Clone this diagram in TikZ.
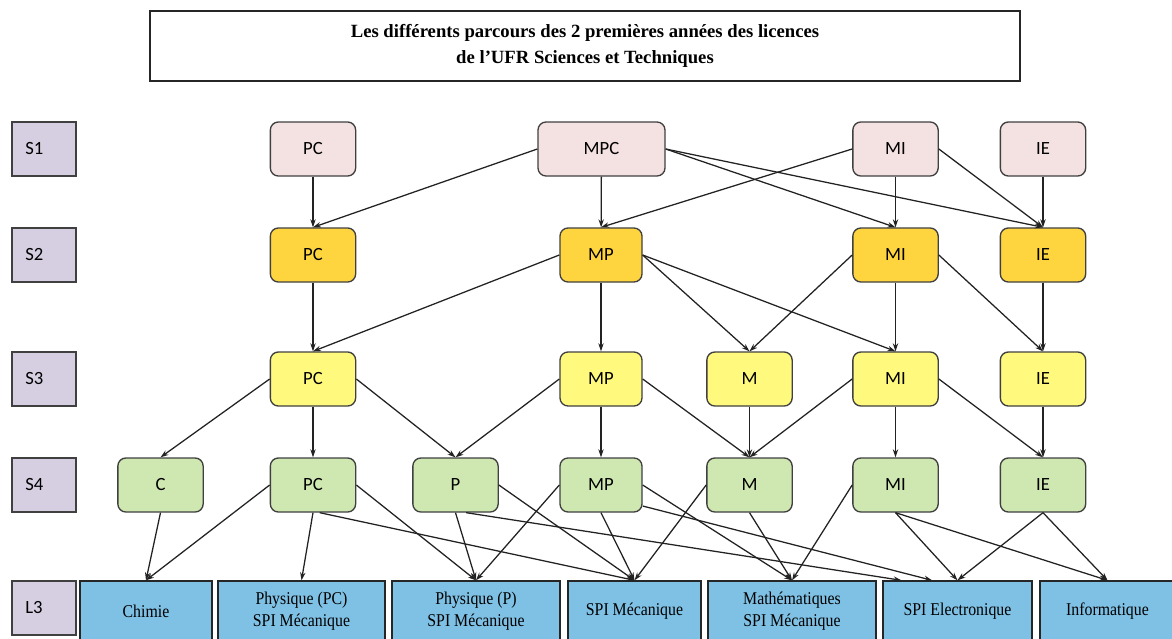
\documentclass[tikz,border=0pt]{standalone}
\usepackage{fontspec}
\setmainfont{Liberation Serif}
\newfontfamily\nodefont{Carlito}
\newfontfamily\lthreefont[FakeStretch=0.88]{Liberation Serif}
\usetikzlibrary{arrows.meta}
\definecolor{cone}{HTML}{F4E1E1}
\definecolor{ctwo}{HTML}{FFD53F}
\definecolor{cthree}{HTML}{FFF97E}
\definecolor{cfour}{HTML}{CFE7B0}
\definecolor{clthree}{HTML}{7FC1E5}
\definecolor{clab}{HTML}{D6CFE2}
\definecolor{edge}{HTML}{222222}
\begin{document}
\begin{tikzpicture}[x=0.75pt,y=-0.75pt,
  box/.style={rounded corners=6pt, draw=black!75, line width=1pt,
    minimum height=40.5pt, minimum width=64pt, inner sep=0pt,
    font=\nodefont\fontsize{14}{16}\selectfont},
  sone/.style={box, fill=cone},
  stwo/.style={box, fill=ctwo},
  sthree/.style={box, fill=cthree},
  sfour/.style={box, fill=cfour},
  lbl/.style={draw=black!75, line width=1pt, fill=clab, minimum height=40.5pt,
    text width=28pt, inner xsep=10pt, align=left,
    font=\nodefont\fontsize{14}{16}\selectfont},
  lthree/.style={draw=black!85, line width=1pt, fill=clthree, minimum height=45pt,
    inner sep=0pt, align=center, font=\lthreefont\fontsize{13.5}{16.5}\selectfont},
  arr/.style={-{Stealth[length=6pt,width=4pt]}, line width=0.95pt, draw=edge}
]
\useasboundingbox (0,0) rectangle (1172,639);
\clip (0,0) rectangle (1172,639);

% title
\node[draw=black!85, line width=1.4pt, minimum width=652.5pt, minimum height=52.5pt,
  align=center, font=\bfseries\fontsize{14}{19.5}\selectfont] (title) at (585,46)
  {Les différents parcours des 2 premières années des licences\\de l’UFR Sciences et Techniques};

% semester labels
\node[lbl] (LS1) at (44,149) {S1};
\node[lbl] (LS2) at (44,255) {S2};
\node[lbl] (LS3) at (44,379) {S3};
\node[lbl] (LS4) at (44,485) {S4};
\node[lbl] (LL3) at (44,608) {L3};

% S1
\node[sone] (PC1) at (313,149) {PC};
\node[sone, minimum width=95.25pt] (MPC1) at (601.5,149) {MPC};
\node[sone] (MI1) at (895.5,149) {MI};
\node[sone] (IE1) at (1043,149) {IE};
% S2
\node[stwo] (PC2) at (313,255) {PC};
\node[stwo, minimum width=61.5pt] (MP2) at (601,255) {MP};
\node[stwo] (MI2) at (895.5,255) {MI};
\node[stwo] (IE2) at (1043,255) {IE};
% S3
\node[sthree] (PC3) at (313,379) {PC};
\node[sthree, minimum width=61.5pt] (MP3) at (601,379) {MP};
\node[sthree] (M3) at (749.5,379) {M};
\node[sthree] (MI3) at (895.5,379) {MI};
\node[sthree] (IE3) at (1043,379) {IE};
% S4
\node[sfour] (C4) at (160.5,485) {C};
\node[sfour] (PC4) at (313,485) {PC};
\node[sfour] (P4) at (455.5,485) {P};
\node[sfour, minimum width=61.5pt] (MP4) at (601,485) {MP};
\node[sfour] (M4) at (749.5,485) {M};
\node[sfour] (MI4) at (895.5,485) {MI};
\node[sfour] (IE4) at (1043,485) {IE};
% L3
\node[lthree, minimum width=99pt] (Chim) at (146,611) {Chimie};
\node[lthree, minimum width=125.25pt] (PhPC) at (301.5,611) {Physique (PC)\\SPI Mécanique};
\node[lthree, minimum width=126pt] (PhP) at (476,611) {Physique (P)\\SPI Mécanique};
\node[lthree, minimum width=99.75pt] (SPIM) at (634.5,611) {SPI Mécanique};
\node[lthree, minimum width=126pt] (Math) at (792,611) {Mathématiques\\SPI Mécanique};
\node[lthree, minimum width=111.75pt] (SPIE) at (957.5,611) {SPI Electronique};
\node[lthree, minimum width=101.25pt] (Info) at (1107.5,611) {Informatique};

% S1 -> S2
\draw[arr] (PC1) -- (PC2);
\draw[arr] (MPC1.west) -- (PC2.north);
\draw[arr] (MPC1) -- (MP2);
\draw[arr] (MPC1.east) -- (MI2.north);
\draw[arr] (MPC1.east) -- (IE2.north);
\draw[arr] (MI1.west) -- (MP2.north);
\draw[arr] (MI1) -- (MI2);
\draw[arr] (MI1.east) -- (IE2.north);
\draw[arr] (IE1) -- (IE2);
% S2 -> S3
\draw[arr] (PC2) -- (PC3);
\draw[arr] (MP2.west) -- (PC3.north);
\draw[arr] (MP2) -- (MP3);
\draw[arr] (MP2.east) -- (M3.north);
\draw[arr] (MP2.east) -- (MI3.north);
\draw[arr] (MI2.west) -- (M3.north);
\draw[arr] (MI2) -- (MI3);
\draw[arr] (MI2.east) -- (IE3.north);
\draw[arr] (IE2) -- (IE3);
% S3 -> S4
\draw[arr] (PC3.west) -- (C4.north);
\draw[arr] (PC3) -- (PC4);
\draw[arr] (PC3.east) -- (P4.north);
\draw[arr] (MP3.west) -- (P4.north);
\draw[arr] (MP3) -- (MP4);
\draw[arr] (MP3.east) -- (M4.north);
\draw[arr] (M3) -- (M4);
\draw[arr] (MI3.west) -- (M4.north);
\draw[arr] (MI3) -- (MI4);
\draw[arr] (MI3.east) -- (IE4.north);
\draw[arr] (IE3) -- (IE4);
% S4 -> L3
\draw[arr] (C4.south) -- (Chim.north);
\draw[arr] (PC4.west) -- (Chim.north);
\draw[arr] (PC4.south) -- (PhPC.north);
\draw[arr] (PC4.east) -- (PhP.north);
\draw[arr] ([xshift=5pt]PC4.south) -- (SPIM.north);
\draw[arr] (P4.south) -- (PhP.north);
\draw[arr] (P4.east) -- (SPIM.north);
\draw[arr] ([xshift=8pt]P4.south) -- ([xshift=-42pt]SPIE.north);
\draw[arr] (MP4.west) -- (PhP.north);
\draw[arr] (MP4.south) -- (SPIM.north);
\draw[arr] (MP4.east) -- (Math.north);
\draw[arr] ([yshift=5pt]MP4.south east) -- ([xshift=-19pt]SPIE.north);
\draw[arr] (M4.west) -- (SPIM.north);
\draw[arr] (M4.south) -- (Math.north);
\draw[arr] (MI4.west) -- (Math.north);
\draw[arr] (MI4.south) -- (SPIE.north);
\draw[arr] (MI4.south) -- (Info.north);
\draw[arr] (IE4.south) -- (SPIE.north);
\draw[arr] (IE4.south) -- (Info.north);
\end{tikzpicture}
\end{document}
